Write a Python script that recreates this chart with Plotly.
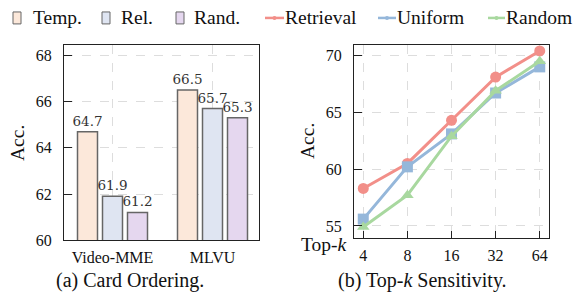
import plotly.graph_objects as go

# ---- data ----
datasets = ["Video-MME", "MLVU"]
temp_vals = [64.7, 66.5]
rel_vals = [61.9, 65.7]
rand_vals = [61.2, 65.3]

topk_labels = ["4", "8", "16", "32", "64"]
retrieval_vals = [58.3, 60.5, 64.3, 68.1, 70.4]
uniform_vals = [55.6, 60.2, 63.1, 66.7, 69.0]
random_vals = [54.9, 57.7, 62.9, 66.9, 69.5]

W, H = 587, 294
SERIF = "Liberation Serif, Times New Roman, serif"
VALFONT = "DejaVu Serif, serif"

bar_colors = {"Temp.": "#FCE8DA", "Rel.": "#DFE5F2", "Rand.": "#E5D7EF"}
edge = "#666666"
line_colors = {"Retrieval": "#F28F89", "Uniform": "#95B7DA", "Random": "#A8D89F"}

fig = go.Figure()

for name, vals in [("Temp.", temp_vals), ("Rel.", rel_vals), ("Rand.", rand_vals)]:
    fig.add_trace(go.Bar(
        x=datasets, y=vals, name=name, xaxis="x", yaxis="y",
        marker=dict(color=bar_colors[name], line=dict(color=edge, width=1.5)),
        text=[f"{v:.1f}" for v in vals], textposition="outside",
        constraintext="none",
        textfont=dict(family=VALFONT, size=13.5, color="#333333"),
        cliponaxis=False, showlegend=False,
    ))

for name, vals, sym in [("Retrieval", retrieval_vals, "circle"),
                        ("Uniform", uniform_vals, "square"),
                        ("Random", random_vals, "triangle-up")]:
    fig.add_trace(go.Scatter(
        x=topk_labels, y=vals, name=name, xaxis="x2", yaxis="y2",
        mode="lines+markers",
        line=dict(color=line_colors[name], width=3),
        marker=dict(symbol=sym, size=11, color=line_colors[name]),
        cliponaxis=False, showlegend=False,
    ))

def px_x(p):
    return p / W

def px_y(p):
    return 1 - p / H

grid = dict(showgrid=True, gridcolor="#DDDDDD", griddash="dash", gridwidth=1)
frame = dict(showline=True, linecolor="#222222", linewidth=1.2, mirror=True, zeroline=False)

fig.update_layout(
    width=W, height=H + 8, autosize=False,
    margin=dict(l=0, r=0, t=0, b=0, pad=0),
    paper_bgcolor="white", plot_bgcolor="white",
    font=dict(family=SERIF, size=16, color="#111111"),
    barmode="group", bargap=0.25, bargroupgap=0.2,
    xaxis=dict(domain=[px_x(64), px_x(259)], anchor="y", type="category",
               range=[-0.485, 1.465], ticks="", ticklabelstandoff=3,
               tickfont=dict(family=SERIF, size=16), **grid, **frame),
    yaxis=dict(domain=[px_y(241), px_y(45)], anchor="x",
               range=[60, 68.46], tickvals=[60, 62, 64, 66, 68],
               ticks="inside", ticklen=8, tickcolor="#222222",
               ticklabelstandoff=8,
               tickfont=dict(family=SERIF, size=16), **grid, **frame),
    xaxis2=dict(domain=[px_x(354), px_x(549)], anchor="y2", type="category",
                range=[-0.21, 4.21], ticks="inside", ticklen=7, tickcolor="#222222",
                ticklabelstandoff=3,
                tickfont=dict(family=SERIF, size=16), **grid, **frame),
    yaxis2=dict(domain=[px_y(239), px_y(45)], anchor="x2",
                range=[53.92, 70.94], tickvals=[55, 60, 65, 70],
                ticks="inside", ticklen=8, tickcolor="#222222",
                ticklabelstandoff=8,
                tickfont=dict(family=SERIF, size=16), **grid, **frame),
)

shapes = []
annotations = []
LEG_Y = 18
LEG_FONT = dict(family=SERIF, size=19.5, color="#111111")

# bar legend entries (patch + label)
for name, bx, tx in [("Temp.", 13, 31), ("Rel.", 102, 119), ("Rand.", 176, 192)]:
    shapes.append(dict(type="rect", xref="paper", yref="paper",
                       x0=px_x(bx), x1=px_x(bx + 8), y0=px_y(24), y1=px_y(12),
                       fillcolor=bar_colors[name], line=dict(color=edge, width=1)))
    annotations.append(dict(text=name, xref="paper", yref="paper",
                            x=px_x(tx), y=px_y(LEG_Y), xanchor="left", yanchor="middle",
                            showarrow=False, font=LEG_FONT))

# line legend entries
for name, lx0, lx1 in [("Retrieval", 265, 284), ("Uniform", 378, 396), ("Random", 488, 505)]:
    c = line_colors[name]
    shapes.append(dict(type="line", xref="paper", yref="paper",
                       x0=px_x(lx0), x1=px_x(lx1), y0=px_y(LEG_Y), y1=px_y(LEG_Y),
                       line=dict(color=c, width=2.5)))
    mx = (lx0 + lx1) / 2
    shapes.append(dict(type="circle", xref="paper", yref="paper",
                       x0=px_x(mx - 2), x1=px_x(mx + 2), y0=px_y(LEG_Y + 2), y1=px_y(LEG_Y - 2),
                       fillcolor=c, line=dict(color=c, width=0)))
    annotations.append(dict(text=name, xref="paper", yref="paper",
                            x=px_x(lx1 - 1), y=px_y(LEG_Y), xanchor="left", yanchor="middle",
                            showarrow=False, font=LEG_FONT))

# axis titles
annotations.append(dict(text="Acc.", xref="paper", yref="paper", x=px_x(17.5), y=px_y(144),
                        textangle=-90, showarrow=False, xanchor="center", yanchor="middle",
                        font=dict(family=SERIF, size=19.5)))
annotations.append(dict(text="Acc.", xref="paper", yref="paper", x=px_x(307.5), y=px_y(142),
                        textangle=-90, showarrow=False, xanchor="center", yanchor="middle",
                        font=dict(family=SERIF, size=19.5)))
annotations.append(dict(text="Top-<i>k</i>", xref="paper", yref="paper", x=px_x(349), y=px_y(245),
                        showarrow=False, xanchor="right", yanchor="middle",
                        font=dict(family=SERIF, size=19.5)))

# captions
annotations.append(dict(text="(a) Card Ordering.", xref="paper", yref="paper",
                        x=px_x(130), y=px_y(281), showarrow=False,
                        xanchor="center", yanchor="middle", font=dict(family=SERIF, size=20)))
annotations.append(dict(text="(b) Top-<i>k</i> Sensitivity.", xref="paper", yref="paper",
                        x=px_x(422.5), y=px_y(281), showarrow=False,
                        xanchor="center", yanchor="middle", font=dict(family=SERIF, size=20)))

fig.update_layout(shapes=shapes, annotations=annotations)

fig.write_html("out.html", config={"displayModeBar": False, "responsive": False},
               post_script="document.body.style.margin='0px';document.body.style.overflow='hidden';")
